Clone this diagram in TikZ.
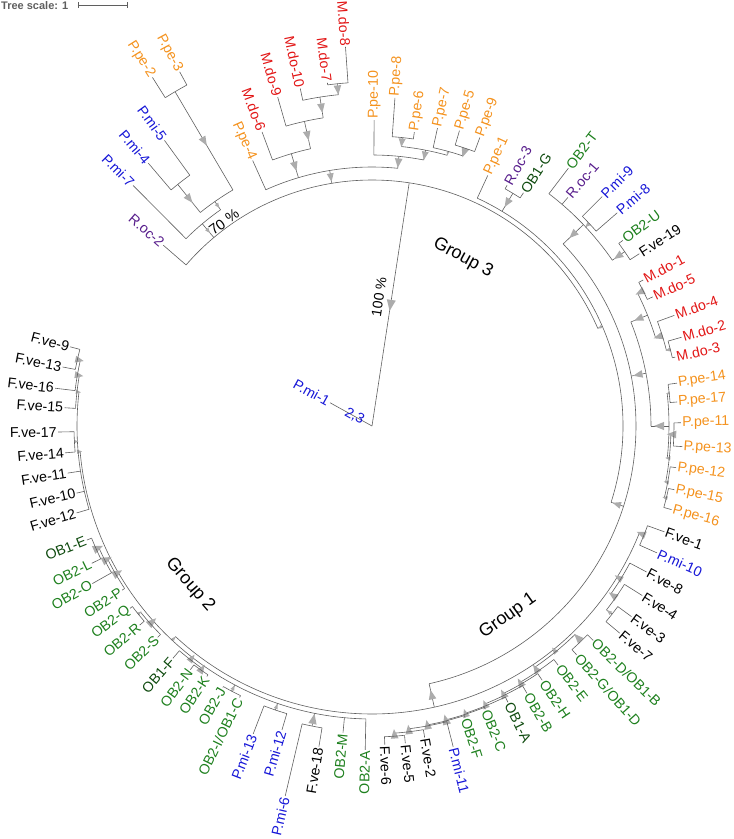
\documentclass[tikz,border=0pt]{standalone}
\usepackage{fontspec}
\setmainfont{Liberation Sans}

\definecolor{brc}{RGB}{95,95,95}
\definecolor{tric}{RGB}{172,172,172}
\definecolor{ppe}{RGB}{244,146,30}
\definecolor{mdo}{RGB}{226,22,22}
\definecolor{pmi}{RGB}{22,22,215}
\definecolor{roc}{RGB}{88,30,140}
\definecolor{obt}{RGB}{30,128,30}
\definecolor{obo}{RGB}{14,74,14}
\definecolor{fve}{RGB}{0,0,0}

\tikzset{
  br/.style={draw=brc, line width=0.6pt},
  tri/.style={fill=tric},
  lab/.style={font=\fontsize{14.2}{16}\selectfont, inner sep=1.2pt},
  grp/.style={font=\fontsize{18}{20}\selectfont},
}

% 葉: 角度, 内側半径, 先端半径, ラベル, 色
\newcommand{\leafb}[5]{%
  \draw[br] (#1:#2pt) -- (#1:#3pt);
  \pgfmathtruncatemacro{\side}{cos(#1)>=0}%
  \ifnum\side=1
    \node[lab, text=#5, anchor=west, rotate=#1] at (#1:#3pt) {#4};
  \else
    \pgfmathsetmacro{\rang}{#1+180}%
    \node[lab, text=#5, anchor=east, rotate=\rang] at (#1:#3pt) {#4};
  \fi}
% 枝と三角: 角度, 内側半径, 外側半径, 三角の大きさ
\newcommand{\stemb}[4]{%
  \draw[br] (#1:#2pt) -- (#1:#3pt);
  \pgfmathsetmacro{\rmid}{(#2+#3)/2}%
  \begin{scope}[shift={(#1:\rmid pt)}, rotate=#1]
    \fill[tri] (-#4pt,0) -- ({0.7*#4pt},{0.7*#4pt}) -- ({0.7*#4pt},{-0.7*#4pt}) -- cycle;
  \end{scope}}
% 円弧: 半径, 始角, 終角
\newcommand{\arcb}[3]{%
  \draw[br] (#2:#1pt) arc[start angle=#2, end angle=#3, radius=#1pt];}

\begin{document}
\begin{tikzpicture}
  \useasboundingbox (-372pt,-413pt) rectangle (362pt,426pt);

  % スケール
  \node[anchor=north west, inner sep=0pt, text=brc, font=\bfseries\fontsize{11}{13}\selectfont] (scl) at (-371pt,425pt) {Tree scale: 1};
  \draw[brc, line width=0.6pt] (-294pt,421pt) -- (-245pt,421pt);
  \draw[brc, line width=0.6pt] (-294pt,418pt) -- (-294pt,424pt);
  \draw[brc, line width=0.6pt] (-245pt,418pt) -- (-245pt,424pt);

  % 根
  \leafb{151}{0}{48}{P.mi-1}{pmi}
  \node[lab, text=pmi, rotate=-29] (p23) at (151:20pt) {2,3};
  \stemb{81.3}{0}{246}{6.5}
  \node[font=\fontsize{14}{16}\selectfont, rotate=81.3] (b100) at (7pt,129pt) {100 \%};
  \arcb{246}{139.1}{23.4}

  % Group 3 (左上)
  \leafb{139.1}{246}{276}{R.oc-2}{roc}
  \stemb{130}{246}{264}{3}
  \node[font=\fontsize{14.5}{17}\selectfont, rotate=36] (b70) at (-148pt,204pt) {70 \%};
  \arcb{264}{134.8}{125}
  \leafb{134.8}{264}{339}{P.mi-7}{pmi}
  \stemb{125}{264}{274}{3}
  \arcb{274}{128.8}{120.5}
  \stemb{128.8}{274}{310}{5.5}
  \arcb{310}{130.4}{126}
  \leafb{130.4}{310}{345}{P.mi-4}{pmi}
  \leafb{126}{310}{353}{P.mi-5}{pmi}
  \stemb{120.5}{274}{388}{5.5}
  \arcb{388}{122.2}{118.5}
  \leafb{122.2}{388}{412}{P.pe-2}{ppe}
  \leafb{118.5}{388}{403}{P.pe-3}{ppe}

  \stemb{99.4}{246}{259}{5}
  \arcb{259}{114.2}{84.3}
  \leafb{114.2}{259}{291}{P.pe-4}{ppe}
  \stemb{106.5}{259}{284}{5.5}
  \arcb{284}{110.5}{102.5}
  \leafb{110.5}{284}{314}{M.do-6}{mdo}
  \stemb{102.5}{284}{312}{5.5}
  \arcb{312}{106}{99}
  \leafb{106}{312}{342}{M.do-9}{mdo}
  \stemb{99}{312}{333}{5.5}
  \arcb{333}{102}{95.8}
  \leafb{102}{333}{345}{M.do-10}{mdo}
  \stemb{95.8}{333}{344}{5.5}
  \arcb{344}{97.4}{94}
  \leafb{97.4}{344}{346}{M.do-7}{mdo}
  \leafb{94}{344}{380}{M.do-8}{mdo}

  \stemb{84.3}{259}{271}{5.5}
  \arcb{271}{89.6}{79}
  \leafb{89.6}{271}{306}{P.pe-10}{ppe}
  \stemb{79}{271}{281}{5}
  \arcb{281}{84}{74.5}
  \stemb{84}{281}{290}{5}
  \arcb{290}{86}{81.8}
  \leafb{86}{290}{329}{P.pe-8}{ppe}
  \leafb{81.8}{290}{297}{P.pe-6}{ppe}
  \stemb{74.5}{281}{285}{2}
  \arcb{285}{77.6}{71.4}
  \leafb{77.6}{285}{305}{P.pe-7}{ppe}
  \stemb{71.4}{285}{293}{5.5}
  \arcb{293}{73.5}{69.5}
  \leafb{73.5}{293}{308}{P.pe-5}{ppe}
  \leafb{69.5}{293}{308}{P.pe-9}{ppe}

  % Group 3 (右上)
  \stemb{23.4}{246}{251}{2.5}
  \arcb{251}{65.2}{-17.7}
  \leafb{65.2}{251}{276}{P.pe-1}{ppe}
  \stemb{58.8}{251}{272}{5.5}
  \arcb{272}{60.7}{57}
  \leafb{60.7}{272}{276}{R.oc-3}{roc}
  \leafb{57}{272}{278}{OB1-G}{obo}

  \stemb{-17.7}{251}{264}{5}
  \arcb{264}{43.6}{-77.5}
  \stemb{43.6}{264}{292}{5.5}
  \arcb{292}{52.7}{34.6}
  \leafb{52.7}{292}{324}{OB2-T}{obt}
  \leafb{49.4}{292}{301}{R.oc-1}{roc}
  \stemb{43}{292}{297}{3}
  \arcb{297}{44.9}{41}
  \leafb{44.9}{297}{325}{P.mi-9}{pmi}
  \leafb{41}{297}{325}{P.mi-8}{pmi}
  \stemb{34.6}{292}{307}{5.5}
  \arcb{307}{36.5}{32.8}
  \leafb{36.5}{307}{312}{OB2-U}{obt}
  \leafb{32.8}{307}{318}{F.ve-19}{fve}

  \stemb{10.9}{264}{279}{5.5}
  \arcb{279}{21.9}{0}
  \stemb{21.9}{279}{297}{5.5}
  \arcb{297}{26.5}{17.3}
  \stemb{26.5}{297}{303}{5.5}
  \arcb{303}{28.3}{24.7}
  \leafb{28.3}{303}{308}{M.do-1}{mdo}
  \leafb{24.7}{303}{309}{M.do-5}{mdo}
  \stemb{17.3}{297}{304}{5.5}
  \arcb{304}{20.1}{14.4}
  \leafb{20.1}{304}{322}{M.do-4}{mdo}
  \stemb{14.4}{304}{308}{3}
  \arcb{308}{16}{12.8}
  \leafb{16}{308}{322}{M.do-2}{mdo}
  \leafb{12.8}{308}{311}{M.do-3}{mdo}

  \stemb{0}{279}{297}{6}
  \arcb{297}{6.3}{-6.2}
  \stemb{6.3}{297}{299}{2}
  \arcb{299}{8}{4.5}
  \leafb{8}{299}{308}{P.pe-14}{ppe}
  \leafb{4.5}{299}{306}{P.pe-17}{ppe}
  \stemb{-6.2}{297}{299}{3}
  \arcb{299}{-1.6}{-10.8}
  \stemb{-1.6}{299}{302}{5.5}
  \arcb{302}{0.6}{-3.8}
  \leafb{0.6}{302}{309}{P.pe-11}{ppe}
  \leafb{-3.8}{302}{311}{P.pe-13}{ppe}
  \stemb{-10.8}{299}{301}{3}
  \arcb{301}{-7.8}{-13.75}
  \leafb{-7.8}{301}{307}{P.pe-12}{ppe}
  \stemb{-13.75}{301}{303}{3}
  \arcb{303}{-11.9}{-15.6}
  \leafb{-11.9}{303}{309}{P.pe-15}{ppe}
  \leafb{-15.6}{303}{311}{P.pe-16}{ppe}

  % Group 1
  \stemb{-77.5}{264}{288}{5.5}
  \arcb{288}{-21.8}{-133}
  \stemb{-21.8}{288}{293}{5.5}
  \arcb{293}{-19.9}{-24}
  \leafb{-19.9}{293}{311}{F.ve-1}{fve}
  \leafb{-24}{293}{312}{P.mi-10}{pmi}
  \stemb{-31.6}{288}{292}{5}
  \arcb{292}{-28}{-35.1}
  \leafb{-28}{292}{311}{F.ve-8}{fve}
  \stemb{-35.1}{292}{298}{5.5}
  \arcb{298}{-32.1}{-38.1}
  \leafb{-32.1}{298}{319}{F.ve-4}{fve}
  \stemb{-38.1}{298}{305}{3}
  \arcb{305}{-36.3}{-39.9}
  \leafb{-36.3}{305}{322}{F.ve-3}{fve}
  \leafb{-39.9}{305}{323}{F.ve-7}{fve}

  \stemb{-50.9}{288}{291}{4}
  \arcb{291}{-45.8}{-56}
  \stemb{-45.8}{291}{300}{5.5}
  \arcb{300}{-44.1}{-48.2}
  \leafb{-44.1}{300}{308}{OB2-D/OB1-B}{obt}
  \leafb{-48.2}{300}{307}{OB2-G/OB1-D}{obt}
  \stemb{-56}{291}{296}{5.5}
  \arcb{296}{-52.1}{-60}
  \leafb{-52.1}{296}{303}{OB2-E}{obt}
  \stemb{-60}{296}{298}{5.5}
  \arcb{298}{-56.2}{-63.9}
  \leafb{-56.2}{298}{306}{OB2-H}{obt}
  \stemb{-63.9}{298}{300}{5.5}
  \arcb{300}{-59.9}{-67.9}
  \leafb{-59.9}{300}{309}{OB2-B}{obt}
  \stemb{-67.9}{300}{302}{5}
  \arcb{302}{-63.8}{-72}
  \leafb{-63.8}{302}{308}{OB1-A}{obo}
  \stemb{-72}{302}{303}{5}
  \arcb{303}{-68.2}{-75.9}
  \leafb{-68.2}{303}{305}{OB2-C}{obt}
  \stemb{-75.9}{303}{304}{6}
  \arcb{304}{-72.3}{-79.5}
  \leafb{-72.3}{304}{306}{OB2-F}{obt}
  \stemb{-79.5}{304}{305}{5.5}
  \arcb{305}{-75.8}{-83.1}
  \leafb{-75.8}{305}{331}{P.mi-11}{pmi}
  \stemb{-83.1}{305}{308}{5.5}
  \arcb{308}{-80.4}{-85.85}
  \leafb{-80.4}{308}{316}{F.ve-2}{fve}
  \stemb{-85.85}{308}{311}{5.5}
  \arcb{311}{-84}{-87.7}
  \leafb{-84}{311}{319}{F.ve-5}{fve}
  \leafb{-87.7}{311}{319}{F.ve-6}{fve}

  % Group 2
  \stemb{-133}{288}{293}{2.5}
  \arcb{293}{-91.2}{-175}
  \leafb{-91.2}{293}{324}{OB2-A}{obt}
  \leafb{-95.4}{293}{308}{OB2-M}{obt}
  \stemb{-101.3}{293}{306}{6}
  \arcb{306}{-99.4}{-103.2}
  \leafb{-99.4}{306}{325}{F.ve-18}{fve}
  \leafb{-103.2}{306}{380}{P.mi-6}{pmi}
  \stemb{-108.8}{293}{300}{3}
  \arcb{300}{-106.5}{-111.1}
  \leafb{-106.5}{300}{317}{P.mi-12}{pmi}
  \leafb{-111.1}{300}{330}{P.mi-13}{pmi}
  \stemb{-117.9}{293}{300}{3}
  \arcb{300}{-116}{-119.7}
  \leafb{-116}{300}{302}{OB2-I/OB1-C}{obt}
  \leafb{-119.7}{300}{301}{OB2-J}{obt}
  \stemb{-127.8}{293}{296}{5}
  \arcb{296}{-125}{-130.6}
  \stemb{-125}{296}{298}{5.5}
  \arcb{298}{-123.4}{-126.7}
  \leafb{-123.4}{298}{300}{OB2-K}{obt}
  \leafb{-126.7}{298}{304}{OB2-N}{obt}
  \leafb{-130.6}{296}{306}{OB1-F}{obo}
  \stemb{-138.3}{293}{297}{6}
  \arcb{297}{-135.4}{-141.2}
  \leafb{-135.4}{297}{301}{OB2-S}{obt}
  \stemb{-141.2}{297}{300}{2.5}
  \arcb{300}{-139.4}{-143}
  \leafb{-139.4}{300}{306}{OB2-R}{obt}
  \leafb{-143}{300}{303}{OB2-Q}{obt}
  \stemb{-150}{293}{296}{6}
  \arcb{296}{-146.7}{-153.3}
  \leafb{-146.7}{296}{299}{OB2-P}{obt}
  \stemb{-153.3}{296}{299}{6}
  \arcb{299}{-150.6}{-156}
  \leafb{-150.6}{299}{321}{OB2-O}{obt}
  \stemb{-156}{299}{302}{6}
  \arcb{302}{-153.9}{-158.2}
  \leafb{-153.9}{302}{312}{OB2-L}{obt}
  \leafb{-158.2}{302}{307}{OB1-E}{obo}

  \stemb{-175}{293}{295}{3}
  \arcb{295}{-163.6}{-186.6}
  \leafb{-163.6}{295}{308}{F.ve-12}{fve}
  \leafb{-167.2}{295}{303}{F.ve-10}{fve}
  \leafb{-171.2}{295}{308}{F.ve-11}{fve}
  \stemb{-177}{295}{298}{2.5}
  \arcb{298}{-175}{-178.9}
  \leafb{-175}{298}{308}{F.ve-14}{fve}
  \leafb{-178.9}{298}{314}{F.ve-17}{fve}
  \stemb{-186.6}{295}{297}{3}
  \arcb{297}{-183.4}{-189.8}
  \leafb{-183.4}{297}{308}{F.ve-15}{fve}
  \stemb{-189.8}{297}{299}{5}
  \arcb{299}{-186.8}{-192.7}
  \leafb{-186.8}{299}{319}{F.ve-16}{fve}
  \stemb{-192.7}{299}{302}{5}
  \arcb{302}{-190.8}{-194.7}
  \leafb{-190.8}{302}{315}{F.ve-13}{fve}
  \leafb{-194.7}{302}{312}{F.ve-9}{fve}

  % グループ名
  \node[grp, rotate=-28.5] (g3) at (91pt,168pt) {Group 3};
  \node[grp, rotate=-49] (g2) at (-182pt,-159pt) {Group 2};
  \node[grp, rotate=35.6] (g1) at (136pt,-190pt) {Group 1};
\end{tikzpicture}
\end{document}
